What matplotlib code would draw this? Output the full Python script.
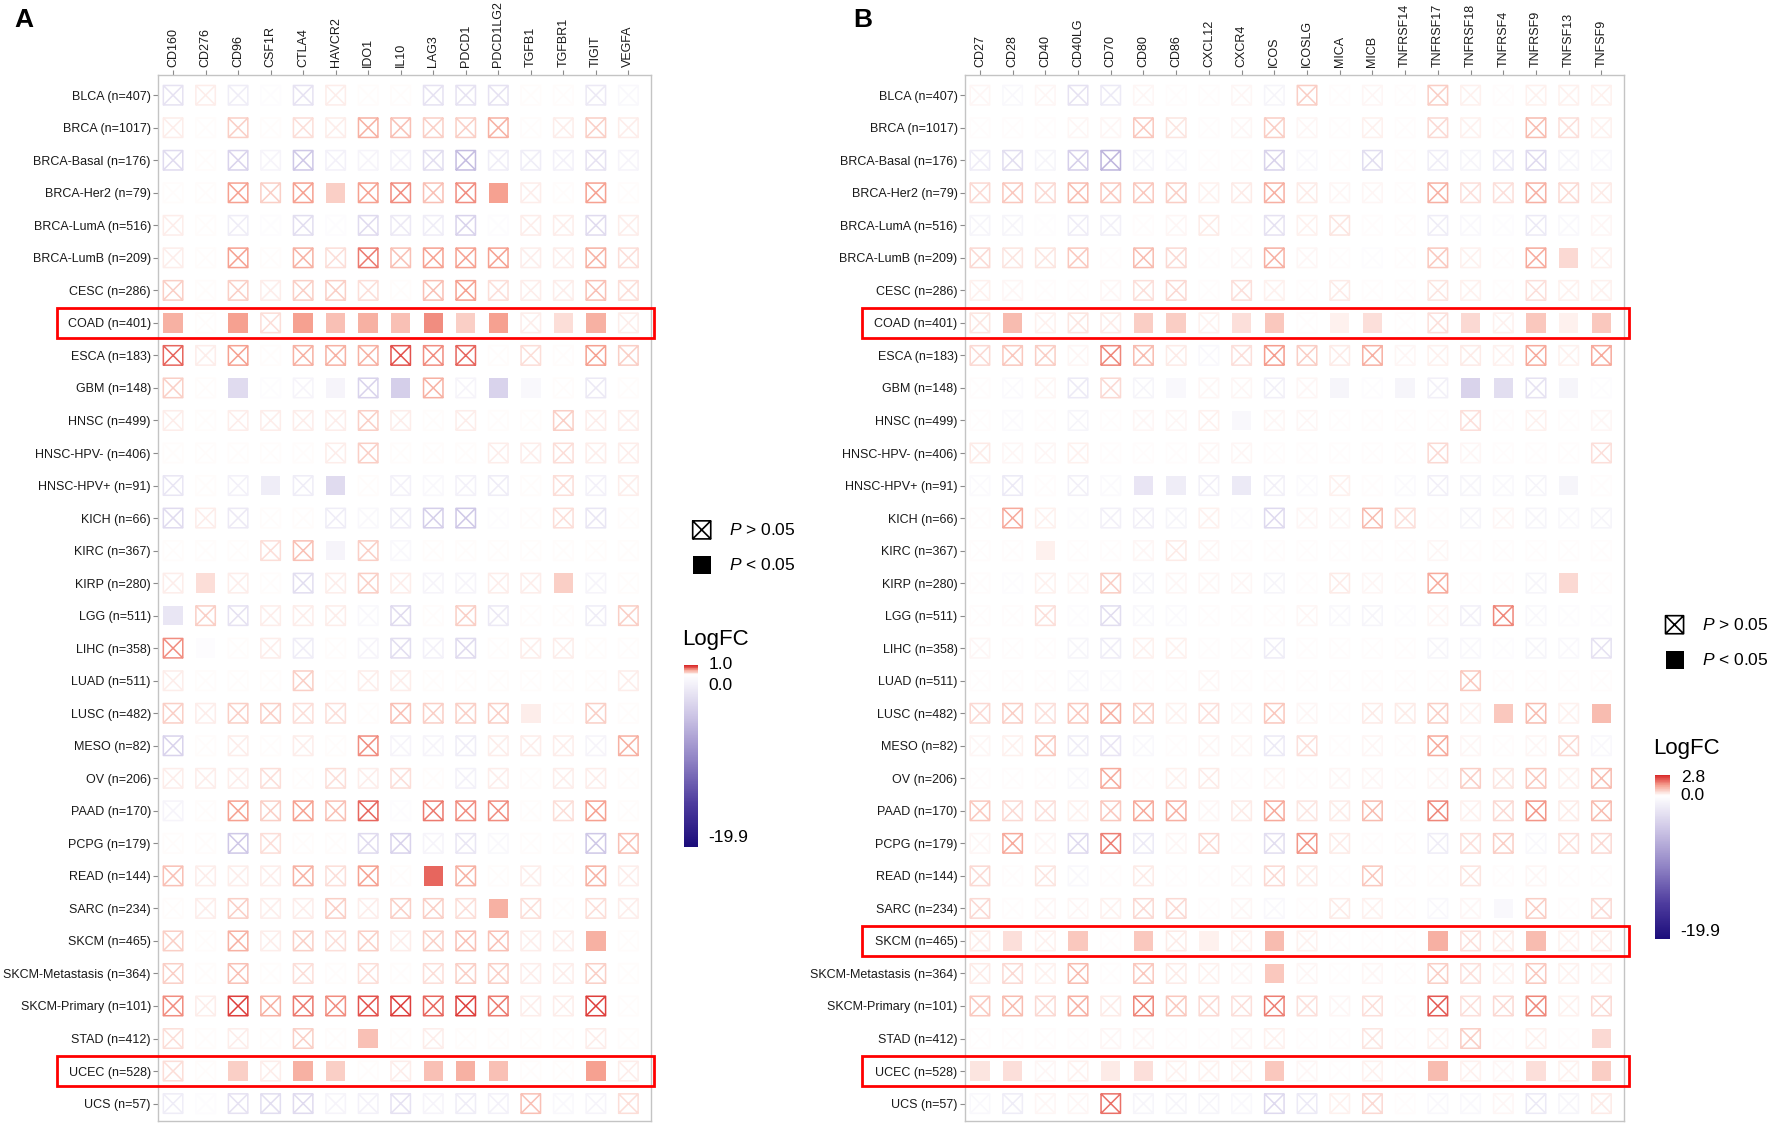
import numpy as np
import matplotlib
matplotlib.use('Agg')
import matplotlib.pyplot as plt
from matplotlib.colors import LinearSegmentedColormap, Normalize
from matplotlib.cm import ScalarMappable
from matplotlib.path import Path
from matplotlib.patches import Rectangle
from matplotlib.transforms import blended_transform_factory

plt.rcParams['font.family'] = ['Liberation Sans', 'DejaVu Sans']
plt.rcParams['mathtext.fontset'] = 'custom'
plt.rcParams['mathtext.rm'] = 'Liberation Sans'
plt.rcParams['mathtext.it'] = 'Liberation Sans:italic'

cancers = ['BLCA (n=407)', 'BRCA (n=1017)', 'BRCA-Basal (n=176)', 'BRCA-Her2 (n=79)',
           'BRCA-LumA (n=516)', 'BRCA-LumB (n=209)', 'CESC (n=286)', 'COAD (n=401)',
           'ESCA (n=183)', 'GBM (n=148)', 'HNSC (n=499)', 'HNSC-HPV- (n=406)',
           'HNSC-HPV+ (n=91)', 'KICH (n=66)', 'KIRC (n=367)', 'KIRP (n=280)',
           'LGG (n=511)', 'LIHC (n=358)', 'LUAD (n=511)', 'LUSC (n=482)',
           'MESO (n=82)', 'OV (n=206)', 'PAAD (n=170)', 'PCPG (n=179)',
           'READ (n=144)', 'SARC (n=234)', 'SKCM (n=465)', 'SKCM-Metastasis (n=364)',
           'SKCM-Primary (n=101)', 'STAD (n=412)', 'UCEC (n=528)', 'UCS (n=57)']

genes_a = ['CD160', 'CD276', 'CD96', 'CSF1R', 'CTLA4', 'HAVCR2', 'IDO1', 'IL10',
           'LAG3', 'PDCD1', 'PDCD1LG2', 'TGFB1', 'TGFBR1', 'TIGIT', 'VEGFA']

genes_b = ['CD27', 'CD28', 'CD40', 'CD40LG', 'CD70', 'CD80', 'CD86', 'CXCL12', 'CXCR4',
           'ICOS', 'ICOSLG', 'MICA', 'MICB', 'TNFRSF14', 'TNFRSF17', 'TNFRSF18',
           'TNFRSF4', 'TNFRSF9', 'TNFSF13', 'TNFSF9']

# logFC per cancer (rows) and gene (columns), panel A: inhibitory genes
logfc_a = [
    [-2.4, 0.06, -1.5, -0.3, -2.4, 0.03, 0.02, 0.02, -2.4, -2.4, -2.4, 0, 0, -1.8, -0.6],
    [0.04, 0, 0.25, 0, 0.18, 0.1, 0.4, 0.3, 0.25, 0.25, 0.35, 0, 0.04, 0.2, 0.08],
    [-3.0, 0, -3.6, -0.9, -4.5, -1.2, -0.9, -1.2, -2.7, -5.4, -1.5, -1.5, -1.2, -2.4, -0.9],
    [0, 0, 0.5, 0.2, 0.45, 0.2, 0.45, 0.55, 0.3, 0.55, 0.45, 0.06, 0, 0.45, 0],
    [0.03, 0, -1.5, -0.3, -2.7, -0.3, -3.0, -1.8, -1.5, -3.6, -0.3, 0.03, 0.06, -3.0, 0.1],
    [0.03, 0, 0.5, 0, 0.4, 0.15, 0.65, 0.3, 0.45, 0.45, 0.5, 0.1, 0.06, 0.35, 0.15],
    [0.25, 0, 0.2, 0.08, 0.25, 0.25, 0.12, 0, 0.3, 0.45, 0.15, 0.1, 0.08, 0.3, 0.15],
    [0.35, 0, 0.45, 0.15, 0.45, 0.3, 0.35, 0.28, 0.55, 0.25, 0.45, 0.1, 0.12, 0.4, 0.05],
    [0.7, 0.03, 0.5, 0, 0.4, 0.4, 0.4, 0.8, 0.55, 0.7, 0.02, 0.18, 0, 0.5, 0.2],
    [0.25, 0, -3.0, -0.3, -0.9, -0.9, -3.6, -3.9, 0.35, -0.9, -3.6, -0.6, 0, -1.8, 0],
    [0.06, 0, 0.05, 0.05, 0.05, 0.04, 0.2, 0.05, 0, 0.03, 0, 0, 0.2, 0.1, 0.05],
    [0, 0.02, 0.02, 0, 0, 0.03, 0.2, 0, 0, 0, 0.06, 0.06, 0.18, 0.05, 0.06],
    [-2.1, 0, -1.2, -1.5, -1.5, -3.0, 0.02, -1.2, -0.6, -1.2, -1.5, 0, 0.15, -1.2, 0.05],
    [-3.0, 0.05, -1.8, 0, 0, -1.5, -0.6, -1.5, -3.9, -4.5, -0.3, 0.02, 0.15, -2.1, 0],
    [0.02, 0, 0, 0.12, 0.3, -0.9, 0.22, -0.6, 0.02, 0, 0.02, 0, 0, 0, 0],
    [0.05, 0.12, 0.05, 0, -2.7, 0.08, 0.22, 0.05, -0.9, -0.9, 0.04, 0.1, 0.2, -0.9, 0],
    [-2.1, 0.22, -2.4, 0.04, 0.03, 0.03, -0.6, -3.0, 0, 0.2, -1.8, 0, 0, -1.5, 0.25],
    [0.55, -0.3, 0.02, 0.04, -1.5, 0, -0.9, -2.7, -1.2, -3.0, 0.02, 0.05, 0.04, 0, 0],
    [0.04, 0, 0.02, 0.02, 0.25, 0, 0.03, 0.03, 0, 0, 0, 0, 0, 0, 0.05],
    [0.25, 0.05, 0.2, 0.2, 0.15, 0.15, 0, 0.3, 0.2, 0.25, 0.25, 0.1, 0, 0.25, 0],
    [-3.6, 0.02, 0.03, 0, 0.04, 0, 0.55, -0.9, -0.9, -1.5, 0.04, 0.08, 0.1, -0.9, 0.4],
    [0.03, 0.04, 0.03, 0.15, 0.02, 0.12, 0.03, 0.18, 0.02, -1.2, 0.04, 0, 0.1, 0.04, 0],
    [-0.9, 0, 0.5, 0.2, 0.5, 0.3, 0.7, -0.3, 0.65, 0.55, 0.55, 0, 0.15, 0.5, 0],
    [0.02, 0, -4.5, 0.15, 0, 0.02, -3.0, -3.6, -0.9, -2.1, -0.6, 0.01, 0, -4.5, 0.3],
    [0.3, 0.03, 0.1, 0.1, 0.4, 0.15, 0.5, 0.02, 0.7, 0.35, 0, 0.1, 0, 0.4, 0.05],
    [0.02, 0.03, 0.2, 0.1, 0.03, 0.2, 0.1, 0.25, 0.25, 0.18, 0.4, 0.12, 0, 0.18, 0.1],
    [0.25, 0, 0.35, 0.06, 0.25, 0.15, 0.25, 0.1, 0.25, 0.3, 0.3, 0.08, 0.08, 0.4, 0],
    [0.2, 0, 0.28, 0, 0.18, 0.02, 0.15, 0, 0.18, 0.2, 0.25, 0.06, 0.1, 0.2, 0],
    [0.55, 0.03, 0.85, 0.35, 0.6, 0.55, 0.8, 0.9, 0.7, 0.85, 0.65, 0.05, 0.05, 0.85, 0],
    [0.15, 0, 0.1, 0, 0.25, 0, 0.3, 0, 0.05, 0, 0, 0, 0, 0.05, 0],
    [0.12, 0, 0.25, 0.03, 0.4, 0.25, 0.02, 0.05, 0.3, 0.35, 0.3, 0.02, 0, 0.45, 0.1],
    [-1.5, -0.3, -2.4, -2.7, -3.0, -0.9, -1.2, -2.4, -0.9, -1.5, -1.2, 0.3, -0.6, -0.9, 0.15],
]

# '#' = P < 0.05 (filled square), '.' = P > 0.05 (crossed square)
sig_a = [
    '...............', '...............', '...............', '.....#....#....',
    '...............', '...............', '...............', '#.#.#######.##.',
    '...............', '..#..#.#..##...', '...............', '...............',
    '...#.#.........', '...............', '.....#.........', '.#..........#..',
    '#..............', '.#.............', '...............', '...........#...',
    '...............', '...............', '...............', '...............',
    '........#......', '..........#....', '.............#.', '...............',
    '...............', '......#........', '..#.##..###..#.', '...............',
]

# panel B: stimulatory genes
logfc_b = [
    [0.08, -0.6, 0.08, -2.4, -1.8, 0.11, 0, 0, 0.06, -0.9, 0.7, 0, 0.06, 0, 0.7, 0.22, 0, 0.14, 0.22, 0.14],
    [0, 0, 0, 0.06, 0.06, 0.84, 0.34, 0, 0.06, 0.7, 0.08, 0, 0.17, 0, 0.56, 0.14, 0, 0.98, 0.42, 0.14],
    [-1.5, -2.7, -0.9, -3.9, -6.0, -0.9, -0.6, 0, 0.03, -3.6, -0.6, 0.03, -2.7, 0, -1.5, -0.9, -1.8, -3.0, -0.9, -0.6],
    [0.56, 0.84, 0.56, 0.98, 0.84, 0.84, 0.7, 0.17, 0.28, 1.12, 0.28, 0.06, 0.08, 0.03, 1.12, 0.42, 0.42, 1.12, 0.56, 0.28],
    [-0.9, -0.9, -0.15, -1.5, -1.2, 0, 0.08, 0.28, 0, -2.4, 0.17, 0.34, 0, 0, -1.5, -0.6, -0.3, -1.8, -0.6, 0.06],
    [0.56, 0.34, 0.34, 0.84, 0, 0.98, 0.56, 0.03, 0.06, 1.12, 0.08, 0, -0.3, 0, 0.84, 0.14, 0, 1.26, 0.56, 0.14],
    [0.14, 0.06, 0, 0.03, 0.08, 0.42, 0.56, 0, 0.42, 0.22, 0, 0.28, 0, 0, 0.34, 0.14, 0, 0.42, 0.14, 0.14],
    [0.34, 0.98, 0.22, 0.34, 0.28, 0.7, 0.7, 0.22, 0.42, 0.84, 0, 0.14, 0.42, 0, 0.42, 0.56, 0.22, 0.84, 0.22, 0.84],
    [0.56, 0.84, 0.7, 0.06, 1.68, 0.98, 0.28, -0.6, 0.42, 1.4, 0.7, 0.28, 1.12, 0.11, 0.17, 0.28, 0.22, 1.26, 0.14, 1.26],
    [0.03, -0.45, 0.06, -1.8, 0.56, -0.9, -0.6, 0.11, 0.11, -1.2, 0.08, -0.9, -0.3, -0.9, -1.2, -3.6, -2.7, -2.4, -0.9, -0.3],
    [0.03, -0.45, 0, -0.9, 0.03, 0.08, 0.08, 0.17, -0.6, 0.11, 0.11, 0, 0.03, 0, 0, 0.42, 0, 0.14, 0, 0.08],
    [0.28, 0.11, 0.08, 0.22, 0, 0, 0, 0.06, 0.06, 0, 0, 0, 0, 0, 0.56, 0.08, 0, 0, 0, 0.42],
    [-0.45, -1.8, 0.03, -1.2, -0.45, -2.1, -1.5, -1.2, -1.8, -1.2, -0.45, 0.14, 0, -0.45, -1.2, -0.9, -0.6, -0.9, -0.9, 0],
    [0.03, 1.26, 0.22, -0.3, -1.2, -1.2, -0.9, 0.22, -0.3, -3.0, 0.06, 0.06, 0.98, 0.42, 0, -0.9, 0.08, -0.9, -0.6, -0.9],
    [0, 0.03, 0.17, 0, 0, 0.08, 0.28, 0.06, 0, 0, 0, 0, 0, 0, 0.06, 0, 0, 0, 0, 0],
    [0, -0.3, 0.14, 0.08, 0.7, -0.9, 0.06, 0.06, 0.11, -0.9, 0, 0.28, 0.06, 0, 1.26, 0.03, 0, -0.9, 0.56, 0],
    [0.03, 0, 0.42, -0.3, -2.7, -0.6, -0.45, 0, 0, 0, 0.08, -0.6, -0.9, -0.3, 0.06, -1.2, 1.68, -0.6, -0.3, -0.3],
    [0.06, 0.03, 0, -0.9, -1.5, 0.22, 0.14, 0, 0, -1.5, 0, 0, 0, 0, -0.9, -0.6, -0.3, -0.9, -0.6, -2.4],
    [0, 0, 0, -0.6, -0.45, 0.03, 0.03, 0.06, 0, 0, 0, 0, 0, 0, 0.03, 0.84, 0, 0, 0, 0],
    [0.56, 0.7, 0.42, 0.84, 1.12, 0.7, 0.22, 0.42, 0.08, 0.84, 0.11, 0, 0.28, 0.28, 0.7, 0.17, 0.84, 0.98, 0.14, 0.98],
    [0.08, 0.17, 0.84, -1.5, -2.1, -0.6, 0, 0.06, 0.06, -1.8, 0.42, 0, 0.08, 0, 1.26, 0.11, 0, 0.11, 0.56, -0.6],
    [0.03, 0.03, 0.03, -0.6, 1.26, 0, 0.14, 0.28, 0, 0.11, 0, 0.11, 0.06, 0.03, 0.06, 0.7, 0.34, 0.84, 0.14, 0.98],
    [0.84, 0.56, 0.42, 0.14, 0.84, 1.26, 1.12, 0.08, 0.28, 1.26, 0.34, 0.28, 0.98, 0, 1.68, 0.14, 0.56, 1.54, 0.28, 0.98],
    [0.06, 1.26, 0.08, -3.0, 1.82, -1.8, 0.06, 0.56, 0, -2.7, 1.54, 0.28, 0, 0.03, -1.5, 0.42, 0.7, -0.6, 0.42, 0.56],
    [0.56, 0.03, 0.34, -0.6, 0, 0.28, 0, 0.03, 0.08, 0.56, 0.28, 0, 0.84, 0.03, 0, 0.34, 0, 0.08, 0, 0],
    [0.56, 0, 0.11, 0.08, 0.22, 0.56, 0.56, 0, 0.06, -0.6, 0, 0.28, 0.14, 0, -0.6, 0.06, -0.6, 0.7, 0, 0.56],
    [0.28, 0.42, 0.14, 0.84, 0, 0.84, 0.28, 0.22, 0.17, 0.98, 0.17, 0, 0, 0, 1.12, 0.42, 0.28, 0.98, 0.14, 0.28],
    [0.28, 0.56, 0.14, 0.98, 0, 0.84, 0.28, 0.17, 0.11, 0.84, 0.06, 0, 0.06, 0, 0.7, 0.42, 0.17, 0.84, 0.14, 0.17],
    [0.84, 0.98, 0.56, 1.12, 0.28, 1.68, 0.84, 0.56, 0.42, 1.82, 0.42, 0.11, 0.42, 0, 2.24, 0.42, 0.56, 1.68, 0.22, 0.56],
    [0, 0.03, 0, 0, 0.06, 0.06, 0, 0, 0.06, 0.14, 0, 0, 0.34, 0, 0.14, 0.7, 0, 0.14, 0, 0.56],
    [0.34, 0.42, 0.06, 0.14, 0.28, 0.42, 0.22, 0.14, 0.14, 0.84, 0.08, 0, 0.17, 0, 0.98, 0.22, 0.11, 0.42, 0.14, 0.7],
    [-0.6, -1.5, 0.06, 0.08, 1.96, -0.9, -0.9, -0.9, -0.6, -3.0, -1.8, 0.17, 0.56, 0, -0.6, -0.6, 0.08, -1.8, -0.9, 0.28],
]

sig_b = [
    '....................', '....................', '....................', '....................',
    '....................', '..................#.', '....................', '.#...##.##.##..#.###',
    '....................', '......#....#.#.##.#.', '........#...........', '....................',
    '.....##.#.........#.', '....................', '..#.................', '..................#.',
    '....................', '....................', '....................', '................#..#',
    '....................', '....................', '....................', '....................',
    '....................', '................#...', '.#.#.#.#.#....#..#..', '.........#..........',
    '....................', '...................#', '##..##...#....#..#.#', '....................',
]

highlight_a = ['COAD (n=401)', 'UCEC (n=528)']
highlight_b = ['COAD (n=401)', 'SKCM (n=465)', 'UCEC (n=528)']
limits_a = (-19.9, 1.0)
limits_b = (-19.9, 2.8)

# square with a cross inside (ggplot shape 7)
CROSS = Path([(-1, -1), (1, -1), (1, 1), (-1, 1), (-1, -1), (-1, -1), (1, 1), (-1, 1), (1, -1)],
             [Path.MOVETO, Path.LINETO, Path.LINETO, Path.LINETO, Path.CLOSEPOLY,
              Path.MOVETO, Path.LINETO, Path.MOVETO, Path.LINETO])
MS = 14  # marker side in points


def make_cmap(vmin, vmax):
    z = -vmin / (vmax - vmin)
    stops = [(0.0, '#1B0C7A'), (z * 0.25, '#4E3C9E'), (z * 0.5, '#8F82C4'),
             (z * 0.75, '#CAC2E4'), (z, '#FFFFFF'), (z + (1 - z) * 0.5, '#F6A393'),
             (1.0, '#D92B2B')]
    return LinearSegmentedColormap.from_list('logfc', stops)


def draw_panel(fig, rect, genes, vals, sig, limits, highlight, box_x):
    ax = fig.add_axes(rect)
    vmin, vmax = limits
    cmap = make_cmap(vmin, vmax)
    norm = Normalize(vmin, vmax)
    vals = np.array(vals, dtype=float)
    filled = np.array([[c == '#' for c in row] for row in sig])
    yy, xx = np.mgrid[0:len(cancers), 0:len(genes)]
    colors = cmap(norm(vals))

    ax.scatter(xx[~filled], yy[~filled], s=MS ** 2, marker=CROSS, facecolors='none',
               edgecolors=colors[~filled], linewidths=1.1)
    ax.scatter(xx[filled], yy[filled], s=MS ** 2, marker='s', c=colors[filled], linewidths=0)

    ax.set_xlim(-0.45, len(genes) - 1 + 0.68)
    ax.set_ylim(len(cancers) - 1 + 0.52, -0.63)
    ax.xaxis.tick_top()
    ax.set_xticks(range(len(genes)))
    ax.set_xticklabels(genes, rotation=90, fontsize=9, color='#1a1a1a')
    ax.set_yticks(range(len(cancers)))
    ax.set_yticklabels(cancers, fontsize=9, color='#1a1a1a')
    ax.tick_params(axis='both', length=3.5, width=0.8, color='#8c8c8c', pad=2)
    for sp in ax.spines.values():
        sp.set_color('#c4c4c4')
        sp.set_linewidth(1.0)

    trans = blended_transform_factory(ax.transAxes, ax.transData)
    for name in highlight:
        r = cancers.index(name)
        ax.add_patch(Rectangle((box_x[0], r - 0.47), box_x[1] - box_x[0], 0.94,
                               transform=trans, fill=False, edgecolor='#ff0000',
                               linewidth=2.0, clip_on=False, zorder=5))
    return cmap, norm


def draw_legend(fig, lax, x, y_cross, y_fill, y_title, cbar_rect, cmap, norm, tick_pos, tick_txt):
    lax.scatter([x], [y_cross], s=13 ** 2, marker=CROSS, facecolors='none',
                edgecolors='black', linewidths=1.2)
    lax.scatter([x], [y_fill], s=13 ** 2, marker='s', c='black', linewidths=0)
    lax.text(x + 0.0155, y_cross, r'$P$ > 0.05', fontsize=12.5, va='center')
    lax.text(x + 0.0155, y_fill, r'$P$ < 0.05', fontsize=12.5, va='center')
    lax.text(cbar_rect[0] - 0.001, y_title, 'LogFC', fontsize=16, va='center')

    cax = fig.add_axes(cbar_rect)
    cb = fig.colorbar(ScalarMappable(norm=norm, cmap=cmap), cax=cax)
    cb.outline.set_visible(False)
    cb.set_ticks([])
    for ty, tt in zip(tick_pos, tick_txt):
        lax.text(cbar_rect[0] + cbar_rect[2] + 0.006, ty, tt, fontsize=12.5, va='center')


fig = plt.figure(figsize=(17.72, 11.25), dpi=100)
lax = fig.add_axes([0, 0, 1, 1])
lax.set_xlim(0, 1)
lax.set_ylim(0, 1)
lax.axis('off')

cmap_a, norm_a = draw_panel(fig, [0.0894, 0.004, 0.2777, 0.9296], genes_a, logfc_a, sig_a,
                            limits_a, highlight_a, (-0.207, 1.007))
cmap_b, norm_b = draw_panel(fig, [0.5447, 0.004, 0.3716, 0.9296], genes_b, logfc_b, sig_b,
                            limits_b, highlight_b, (-0.156, 1.0086))

draw_legend(fig, lax, 0.396, 0.529, 0.498, 0.432, [0.386, 0.2475, 0.0077, 0.161],
            cmap_a, norm_a, [0.4095, 0.3903, 0.2555],
            ['%.1f' % limits_a[1], '0.0', '%.1f' % limits_a[0]])
draw_legend(fig, lax, 0.945, 0.4447, 0.4135, 0.335, [0.934, 0.165, 0.0085, 0.146],
            cmap_b, norm_b, [0.3089, 0.2928, 0.172],
            ['%.1f' % limits_b[1], '0.0', '%.1f' % limits_b[0]])

fig.text(0.0083, 0.982, 'A', fontsize=19, fontweight='bold', va='center')
fig.text(0.4815, 0.982, 'B', fontsize=19, fontweight='bold', va='center')

fig.savefig('out.png', dpi=100)
